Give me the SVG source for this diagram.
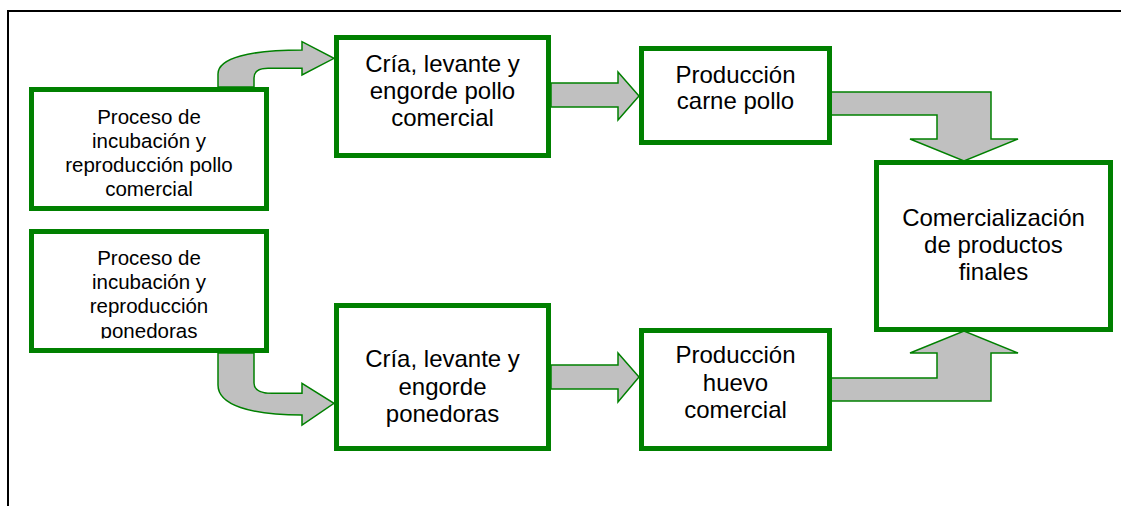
<svg xmlns="http://www.w3.org/2000/svg" width="1121" height="506" viewBox="0 0 1121 506">
<style>
.box{fill:#fff;stroke:#008000;stroke-width:5}
.arr{fill:#c0c0c0;stroke:#008000;stroke-width:1.5;stroke-linejoin:miter}
.t{font-family:"Liberation Sans",Arial,sans-serif;fill:#000;text-anchor:middle}
.s{font-size:20.5px}
.b{font-size:24px}
</style>
<defs>
<clipPath id="clip2"><rect x="34" y="234" width="230" height="104.5"/></clipPath>
</defs>
<rect x="8" y="11" width="1125" height="510" fill="none" stroke="#000" stroke-width="2"/>
<g id="connectors">
<path class="arr" d="M218,87 L218,74 C218,58 250,50 302,50 L302,41.7 L334,58.3 L302,75 L302,68.3 L268,68.3 C258,68.3 254,72 254,78 L254,87 Z"/>
<path class="arr" d="M218,353 L218,385 C218,405 250,415 302,415 L302,425 L334,403.3 L302,383.3 L302,393.3 L272,393.3 C262,393.3 254,391 254,383 L254,353 Z"/>
<path class="arr" d="M551,83 L618,83 L618,72 L639,96 L618,120 L618,107 L551,107 Z"/>
<path class="arr" d="M551,365 L618,365 L618,353 L639,377 L618,402 L618,389 L551,389 Z"/>
<path class="arr" d="M830,92 L991,92 L991,139 L1018,139 L964,161 L910,139 L937,139 L937,115 L830,115 Z"/>
<path class="arr" d="M830,401 L991,401 L991,353 L1018,353 L964,331 L910,353 L937,353 L937,378 L830,378 Z"/>
</g>
<g id="n1">
<rect class="box" x="31.5" y="89.5" width="235" height="119"/>
<text class="t s" x="149" y="124.3">Proceso de</text>
<text class="t s" x="149" y="148.3">incubación y</text>
<text class="t s" x="149" y="172.3">reproducción pollo</text>
<text class="t s" x="149" y="195.7">comercial</text>
</g>
<g id="n2">
<rect class="box" x="31.5" y="231.5" width="235" height="119"/>
<g clip-path="url(#clip2)">
<text class="t s" x="149" y="265">Proceso de</text>
<text class="t s" x="149" y="289">incubación y</text>
<text class="t s" x="149" y="313">reproducción</text>
<text class="t s" x="149" y="337.5">ponedoras</text>
</g>
</g>
<g id="n3">
<rect class="box" x="336.5" y="37.5" width="212" height="118"/>
<text class="t b" x="442.5" y="71.7">Cría, levante y</text>
<text class="t b" x="442.5" y="98.5">engorde pollo</text>
<text class="t b" x="442.5" y="126">comercial</text>
</g>
<g id="n4">
<rect class="box" x="641.5" y="48.5" width="188" height="94"/>
<text class="t b" x="735.5" y="83.3">Producción</text>
<text class="t b" x="735.5" y="109.3">carne pollo</text>
</g>
<g id="n5">
<rect class="box" x="876.5" y="162.5" width="234" height="167"/>
<text class="t b" x="993.5" y="225.7">Comercialización</text>
<text class="t b" x="993.5" y="253">de productos</text>
<text class="t b" x="993.5" y="280">finales</text>
</g>
<g id="n6">
<rect class="box" x="336.5" y="305.5" width="212" height="143"/>
<text class="t b" x="442.5" y="367.3">Cría, levante y</text>
<text class="t b" x="442.5" y="395">engorde</text>
<text class="t b" x="442.5" y="421.7">ponedoras</text>
</g>
<g id="n7">
<rect class="box" x="641.5" y="330.5" width="188" height="118"/>
<text class="t b" x="735.5" y="363.3">Producción</text>
<text class="t b" x="735.5" y="391">huevo</text>
<text class="t b" x="735.5" y="418.3">comercial</text>
</g>
</svg>
